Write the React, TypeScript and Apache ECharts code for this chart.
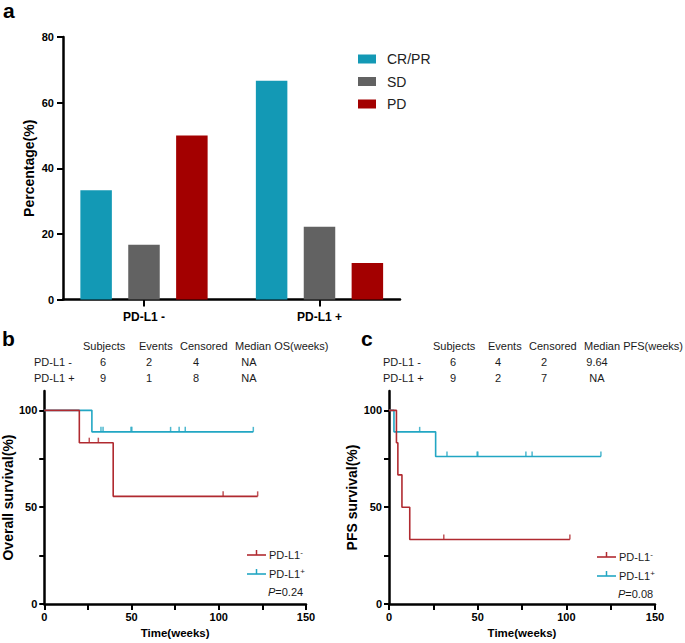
import React, { useEffect, useRef } from 'react';
import * as echarts from 'echarts';

// ---------- Panel a: objective response ----------
const responseGroups = ['PD-L1 -', 'PD-L1 +'];
const responseNames = ['CR/PR', 'SD', 'PD'];
const crprValues = [33.3, 66.7];
const sdValues = [16.7, 22.2];
const pdValues = [50.0, 11.1];
const percentTicks = [0, 20, 40, 60, 80];

// ---------- Tables ----------
const tableGroups = ['PD-L1 -', 'PD-L1 +'];
const osHeader = ['Subjects', 'Events', 'Censored', 'Median OS(weeks)'];
const osSubjects = ['6', '9'];
const osEvents = ['2', '1'];
const osCensored = ['4', '8'];
const osMedian = ['NA', 'NA'];
const pfsHeader = ['Subjects', 'Events', 'Censored', 'Median PFS(weeks)'];
const pfsSubjects = ['6', '9'];
const pfsEvents = ['4', '2'];
const pfsCensored = ['2', '7'];
const pfsMedian = ['9.64', 'NA'];

// ---------- Panel b: overall survival (time in weeks, survival %) ----------
const osNegCurve = [[0, 100], [20.1, 83.3], [39.5, 55.6], [122.3, 55.6]];
const osNegCensor = [[25.8, 83.3], [31.0, 83.3], [102.5, 55.6], [122.3, 55.6]];
const osPosCurve = [[0, 100], [27.3, 88.9], [119.8, 88.9]];
const osPosCensor = [[32.5, 88.9], [33.7, 88.9], [49.7, 88.9], [50.2, 88.9], [72.4, 88.9], [77.3, 88.9], [80.8, 88.9], [119.8, 88.9]];

// ---------- Panel c: PFS ----------
const pfsNegCurve = [[0, 100], [4.2, 83.3], [5.0, 66.7], [7.3, 50.0], [11.7, 33.3], [102.0, 33.3]];
const pfsNegCensor = [[30.9, 33.3], [102.0, 33.3]];
const pfsPosCurve = [[0, 100], [2.8, 88.9], [26.3, 76.2], [119.5, 76.2]];
const pfsPosCensor = [[17.3, 88.9], [32.7, 76.2], [49.7, 76.2], [50.1, 76.2], [77.2, 76.2], [80.7, 76.2], [119.5, 76.2]];

const kmTicksX = [0, 25, 50, 75, 100, 125, 150];
const kmLabelsX = [0, 50, 100, 150];
const kmTicksY = [0, 25, 50, 75, 100];
const kmLabelsY = [0, 50, 100];

const FONT = '"Liberation Sans", Arial, Helvetica, sans-serif';
const TEAL = '#1399B5';
const GRAY = '#626262';
const DARKRED = '#A30000';
const KM_RED = '#B02A30';
const KM_CYAN = '#22A6C3';
const TXT = '#1a1a1a';

function axisLineStyle() {
  return { show: true, onZero: false, lineStyle: { color: '#000', width: 2.5 } };
}

function kmXAxis(gridIndex: number) {
  return {
    type: 'value', gridIndex, min: 0, max: 150, interval: 25,
    axisLine: axisLineStyle(),
    axisTick: { show: true, length: 6, lineStyle: { color: '#000', width: 2 }, customValues: kmTicksX },
    axisLabel: { color: '#000', fontWeight: 'bold', fontSize: 11, margin: 7, fontFamily: FONT, customValues: kmLabelsX },
    splitLine: { show: false },
    name: 'Time(weeks)', nameLocation: 'middle', nameGap: 23,
    nameTextStyle: { color: '#000', fontWeight: 'bold', fontSize: 11.5, fontFamily: FONT },
  };
}

function kmYAxis(gridIndex: number, name: string, gap: number) {
  return {
    type: 'value', gridIndex, min: 0, max: 110,
    axisLine: axisLineStyle(),
    axisTick: { show: true, length: 5, lineStyle: { color: '#000', width: 2 }, customValues: kmTicksY },
    axisLabel: { color: '#000', fontWeight: 'bold', fontSize: 11, margin: 7, fontFamily: FONT, customValues: kmLabelsY },
    splitLine: { show: false },
    name, nameLocation: 'middle', nameGap: gap,
    nameTextStyle: { color: '#000', fontWeight: 'bold', fontSize: 14, fontFamily: FONT },
  };
}

function kmSeries(axis: number, curve: number[][], censor: number[][], color: string, z: number, name: string) {
  return [
    {
      type: 'line', name, xAxisIndex: axis, yAxisIndex: axis, data: curve, step: 'end',
      symbol: 'none', showSymbol: false, silent: true, z,
      lineStyle: { color, width: 1.6 }, itemStyle: { color },
    },
    {
      type: 'scatter', name: name + ' censored', xAxisIndex: axis, yAxisIndex: axis, data: censor,
      symbol: 'rect', symbolSize: [1.5, 5], symbolOffset: [0, -2.5], silent: true, z,
      itemStyle: { color },
    },
  ];
}

function tableGraphics(
  header: string[], headerX: number[], valueX: number[], labelX: number,
  cols: string[][], y0: number,
) {
  const els: any[] = [];
  header.forEach((h, i) => {
    els.push({ type: 'text', x: headerX[i], y: y0, style: { text: h, fill: TXT, fontSize: 11, fontFamily: FONT, align: 'left', verticalAlign: 'middle' } });
  });
  tableGroups.forEach((g, r) => {
    const y = y0 + 16 * (r + 1);
    els.push({ type: 'text', x: labelX, y, style: { text: g, fill: TXT, fontSize: 11, fontFamily: FONT, align: 'left', verticalAlign: 'middle' } });
    cols.forEach((col, c) => {
      els.push({ type: 'text', x: valueX[c], y, style: { text: col[r], fill: TXT, fontSize: 11, fontFamily: FONT, align: 'center', verticalAlign: 'middle' } });
    });
  });
  return els;
}

const supRich = {
  a: { fontSize: 11, fontFamily: FONT, fill: TXT, color: TXT, lineHeight: 13 },
  s: { fontSize: 8, fontFamily: FONT, fill: TXT, color: TXT, lineHeight: 8, verticalAlign: 'top' },
  i: { fontSize: 11, fontFamily: FONT, fill: TXT, color: TXT, fontStyle: 'italic' },
  n: { fontSize: 11, fontFamily: FONT, fill: TXT, color: TXT },
};

function kmLegend(x: number, y: number, textX: number, pText: string) {
  const els: any[] = [];
  const items = [
    { color: KM_RED, sign: '-', dy: 0 },
    { color: KM_CYAN, sign: '+', dy: 19 },
  ];
  items.forEach((it) => {
    const yy = y + it.dy;
    els.push({ type: 'line', shape: { x1: x, y1: yy, x2: x + 19, y2: yy }, style: { stroke: it.color, lineWidth: 1.6 } });
    els.push({ type: 'line', shape: { x1: x + 9.5, y1: yy - 5, x2: x + 9.5, y2: yy }, style: { stroke: it.color, lineWidth: 1.5 } });
    els.push({ type: 'text', x: textX, y: yy, style: { text: '{a|PD-L1}{s|' + it.sign + '}', rich: supRich, verticalAlign: 'middle', align: 'left' } });
  });
  els.push({ type: 'text', x: textX - 1, y: y + 37, style: { text: '{i|P}{n|=' + pText + '}', rich: supRich, verticalAlign: 'middle', align: 'left' } });
  return els;
}

export default function App() {
  const ref = useRef<HTMLDivElement>(null);
  useEffect(() => {
    if (!ref.current) return;
    const chart = echarts.init(ref.current, null, { renderer: 'svg' });
    const barData = (vals: number[]) => vals.map((v, i) => [i, v]);
    const option: any = {
      animation: false,
      textStyle: { fontFamily: FONT },
      grid: [
        { left: 63, top: 37, width: 337, height: 262.5 },
        { left: 40, top: 391, width: 266, height: 213 },
        { left: 389, top: 391, width: 266, height: 213 },
      ],
      legend: {
        data: responseNames, orient: 'vertical', left: 358, top: 52, padding: 0,
        icon: 'rect', itemWidth: 18, itemHeight: 9, itemGap: 8.5,
        textStyle: { fontSize: 14, lineHeight: 14, color: '#222', fontFamily: FONT, padding: [0, 0, 0, 6] },
        selectedMode: false,
      },
      xAxis: [
        {
          type: 'value', gridIndex: 0, min: -0.4615, max: 1.4587,
          axisLine: axisLineStyle(),
          axisTick: { show: true, length: 7, lineStyle: { color: '#000', width: 2 }, customValues: [0, 1] },
          axisLabel: {
            customValues: [0, 1], color: '#000', fontWeight: 'bold', fontSize: 12, margin: 11, fontFamily: FONT,
            formatter: (v: number) => responseGroups[Math.round(v)] ?? '',
          },
          splitLine: { show: false },
        },
        kmXAxis(1),
        kmXAxis(2),
      ],
      yAxis: [
        {
          type: 'value', gridIndex: 0, min: 0, max: 80, interval: 20,
          axisLine: axisLineStyle(),
          axisTick: { show: true, length: 6, lineStyle: { color: '#000', width: 2 }, customValues: percentTicks },
          axisLabel: { color: '#000', fontWeight: 'bold', fontSize: 11, margin: 9, fontFamily: FONT, customValues: percentTicks },
          splitLine: { show: false },
          name: 'Percentage(%)', nameLocation: 'middle', nameGap: 27,
          nameTextStyle: { color: '#000', fontWeight: 'bold', fontSize: 14, fontFamily: FONT },
        },
        kmYAxis(1, 'Overall survival(%)', 28),
        kmYAxis(2, 'PFS survival(%)', 30),
      ],
      series: [
        { type: 'bar', name: responseNames[0], xAxisIndex: 0, yAxisIndex: 0, data: barData(crprValues), barWidth: 31.5, barGap: '52%', itemStyle: { color: TEAL }, silent: true },
        { type: 'bar', name: responseNames[1], xAxisIndex: 0, yAxisIndex: 0, data: barData(sdValues), barWidth: 31.5, barGap: '52%', itemStyle: { color: GRAY }, silent: true },
        { type: 'bar', name: responseNames[2], xAxisIndex: 0, yAxisIndex: 0, data: barData(pdValues), barWidth: 31.5, barGap: '52%', itemStyle: { color: DARKRED }, silent: true },
        ...kmSeries(1, osPosCurve, osPosCensor, KM_CYAN, 2, 'OS PD-L1+'),
        ...kmSeries(1, osNegCurve, osNegCensor, KM_RED, 3, 'OS PD-L1-'),
        ...kmSeries(2, pfsPosCurve, pfsPosCensor, KM_CYAN, 2, 'PFS PD-L1+'),
        ...kmSeries(2, pfsNegCurve, pfsNegCensor, KM_RED, 3, 'PFS PD-L1-'),
      ],
      graphic: [
        { type: 'text', x: 3, y: 10, style: { text: 'a', fill: '#000', fontSize: 21, fontWeight: 'bold', fontFamily: FONT, verticalAlign: 'middle' } },
        { type: 'text', x: 2, y: 338, style: { text: 'b', fill: '#000', fontSize: 21, fontWeight: 'bold', fontFamily: FONT, verticalAlign: 'middle' } },
        { type: 'text', x: 361, y: 338, style: { text: 'c', fill: '#000', fontSize: 21, fontWeight: 'bold', fontFamily: FONT, verticalAlign: 'middle' } },
        ...tableGraphics(osHeader, [83, 139, 180, 235], [103, 149, 196, 249], 34, [osSubjects, osEvents, osCensored, osMedian], 346),
        ...tableGraphics(pfsHeader, [433, 488, 529, 584], [453, 498, 544, 597], 383, [pfsSubjects, pfsEvents, pfsCensored, pfsMedian], 346),
        ...kmLegend(247, 555, 269, '0.24'),
        ...kmLegend(597, 557, 619, '0.08'),
      ],
    };
    chart.setOption(option);
    return () => chart.dispose();
  }, []);
  return <div ref={ref} style={{ position: 'absolute', left: 0, top: 0, width: 685, height: 643 }} />;
}
